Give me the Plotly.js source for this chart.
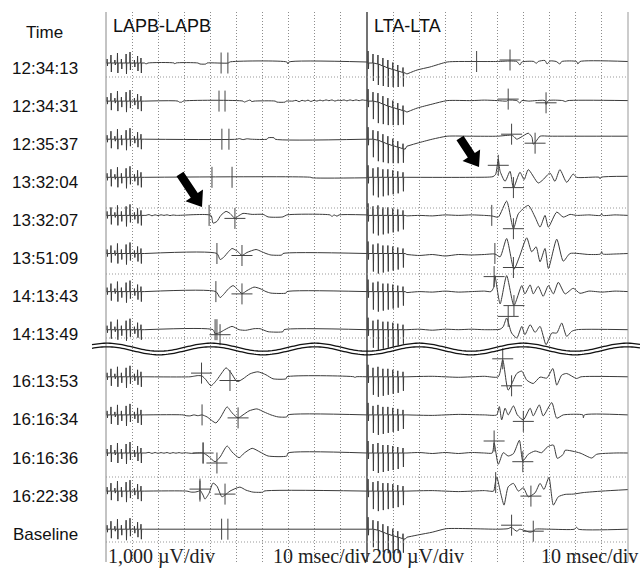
<!DOCTYPE html>
<html>
<head>
<meta charset="utf-8">
<script src="https://cdn.plot.ly/plotly-3.0.1.min.js"></script>
<style>html,body{margin:0;padding:0;background:#fff;}#chart{width:641px;height:568px;}</style>
</head>
<body>
<div id="chart"></div>
<script>
// ---------------- DATA ----------------
const timeLabels = ["12:34:13","12:34:31","12:35:37","13:32:04","13:32:07","13:51:09","14:13:43","14:13:49","16:13:53","16:16:34","16:16:36","16:22:38","Baseline"];
const panelTitles = ["LAPB-LAPB","LTA-LTA"];
const scaleLabels = ["1,000 \u00b5V/div","10 msec/div","200 \u00b5V/div","10 msec/div"];
const LAPB_UV_PER_DIV = 1000;
const LTA_UV_PER_DIV = 200;
const MS_PER_DIV = 10;

// stimulation artifacts [ms, uV]
const lapbArtifact = [[0,0],[0.3,0],[0.4,200],[0.55,-150],[0.65,0],
 [1.8,0],[1.9,400],[2.05,-450],[2.15,0],
 [3.3,0],[3.4,150],[3.55,-100],[3.65,0],
 [4.3,0],[4.4,500],[4.55,-500],[4.65,0],
 [5.8,0],[5.9,200],[6.05,-300],[6.15,0],
 [7.6,0],[7.7,450],[7.85,-550],[7.95,0],
 [9.1,0],[9.2,550],[9.35,-350],[9.45,0],
 [10.8,0],[10.9,150],[11.05,-200],[11.15,0],
 [12.0,0],[12.1,350],[12.25,-400],[12.35,0],
 [13.3,0],[13.4,250],[13.55,-500],[13.65,0],[14.6,0]];
const ltaArtifact = [[0,0],[0.3,0],[0.4,120],[0.55,-60],[0.65,0],
 [2.2,0],[2.3,90],[2.45,-180],[2.55,0],
 [4.1,0],[4.2,100],[4.35,-200],[4.45,0],
 [6.0,0],[6.1,80],[6.25,-190],[6.35,0],
 [7.9,0],[8.0,80],[8.15,-180],[8.25,0],
 [9.8,0],[9.9,70],[10.05,-170],[10.15,0],
 [11.7,0],[11.8,60],[11.95,-160],[12.05,0],
 [13.7,0],[13.8,50],[13.95,-140],[14.05,0],[14.6,0]];
const ltaArtifactDrift = [[0,0],[0.3,0],[0.4,120],[0.55,-60],[0.65,0],
 [2.2,0],[2.3,90],[2.45,-180],[2.55,0],
 [4.1,-10],[4.2,80],[4.35,-220],[4.45,-10],
 [6.0,-30],[6.1,50],[6.25,-230],[6.35,-30],
 [7.9,-50],[8.0,30],[8.15,-240],[8.25,-50],
 [9.8,-65],[9.9,5],[10.05,-240],[10.15,-65],
 [11.7,-80],[11.8,-20],[11.95,-240],[12.05,-80],
 [13.7,-95],[13.8,-45],[13.95,-235],[14.05,-95],[14.6,-100]];
const ltaDriftRows = [0,1,2,12];

// LAPB-LAPB responses [ms, uV]
const lapb0 = [[14.9,0],[15.3,-50],[16.1,0],[26.1,0],[26.4,-50],[26.8,0],[35.2,0],[36.0,-50],[38.3,-50],[38.7,0],[47.0,0],[47.3,50],[69.3,50],[69.7,-50],[70.1,50],[100,50]];
const lapb1 = [[14.9,0],[27.6,0],[28.0,-50],[29.1,-50],[29.5,0],[52.5,0],[52.9,-50],[54.0,0],[55.2,50],[55.9,-25],[56.7,0],[64.8,0],[65.5,-50],[68.6,-50],[69.0,0],[71.6,0],[72.8,40],[74.0,-30],[75.1,40],[76.3,0],[77.4,50],[78.5,-20],[79.7,40],[80.8,0],[82.0,50],[83.1,10],[84.3,60],[85.4,20],[86.6,60],[87.7,0],[88.9,50],[90.0,20],[91.2,60],[92.3,10],[93.5,60],[94.6,20],[95.8,60],[97.0,20],[98.1,60],[99.2,40],[100,40]];
const lapb2 = [[14.9,0],[50.2,0],[51.0,30],[52.5,-20],[54.0,20],[55.6,0],[61.7,0],[62.1,70],[64.4,70],[64.8,0],[100,0]];
const lapb3 = [[14.9,0],[78.5,0],[78.9,-25],[100,-25]];
const lapb4 = [[15.3,0],[16.5,40],[17.6,-20],[18.8,30],[19.9,-10],[21.1,30],[22.2,0],[23.4,30],[24.5,-10],[25.7,20],[27.0,0],[40.2,0],[41.0,-385],[42.5,-300],[44.0,0],[46.0,200],[47.5,100],[49.4,-150],[50.5,-50],[52.5,100],[56.0,50],[60.2,50],[62.1,-75],[67.8,-75],[69.3,25],[85.8,25],[86.6,-50],[87.4,25],[88.5,-40],[89.3,25],[100,25]];
const lapb5 = [[14.9,0],[42.5,0],[43.7,-300],[45.0,-200],[47.0,100],[48.3,250],[50.5,100],[52.1,-100],[54.0,50],[57.5,200],[59.5,100],[61.3,0],[63.2,-75],[67.4,-75],[67.8,0],[100,0]];
const lapb6 = [[14.9,0],[42.1,0],[43.7,-300],[45.0,-150],[47.0,150],[48.7,300],[50.5,100],[52.1,-100],[54.0,50],[56.7,225],[59.0,150],[61.3,0],[63.2,-75],[69.0,-75],[69.3,0],[100,0]];
const lapb7 = [[14.9,0],[41.0,0],[41.8,-200],[43.5,-150],[45.5,0],[48.3,165],[51.0,0],[53.5,-30],[56.7,50],[59.0,50],[62.1,-100],[67.8,-100],[68.2,0],[100,0]];
const lapb8 = [[14.9,0],[32.2,0],[33.7,30],[35.2,60],[36.8,40],[38.3,-150],[40.2,-450],[42.5,-150],[44.4,200],[46.0,450],[47.9,200],[49.8,-185],[50.6,-235],[52.5,-100],[55.2,150],[58.2,250],[61.3,100],[64.0,-100],[69.0,-100],[69.3,0],[95.0,0],[95.4,-40],[95.8,0],[100,0]];
const lapb9 = [[14.9,0],[29.5,0],[30.7,-40],[32.2,-50],[33.7,0],[35.2,-40],[36.8,0],[38.7,-100],[42.1,-400],[44.0,-100],[46.4,400],[48.3,100],[50.6,-150],[52.5,0],[54.8,200],[57.8,300],[60.5,150],[63.2,0],[65.9,-100],[69.3,-100],[69.7,0],[100,0]];
const lapb10 = [[15.3,0],[16.5,30],[17.6,-20],[18.8,25],[19.9,-15],[21.1,20],[22.2,-10],[23.4,25],[24.5,-20],[25.7,20],[26.8,-10],[28.0,20],[29.1,-10],[30.3,15],[31.4,0],[33.0,-20],[34.5,0],[37.2,0],[39.1,-150],[41.8,-435],[43.7,-200],[46.4,350],[48.3,50],[51.0,-235],[53.0,0],[56.0,235],[59.0,50],[62.1,-150],[69.3,-150],[69.7,0],[100,0]];
const lapb11 = [[14.9,0],[31.0,0],[32.6,-50],[34.1,-50],[35.6,0],[36.0,50],[37.2,-200],[37.9,-400],[39.5,-100],[41.0,400],[42.5,250],[44.4,-285],[45.6,-200],[47.5,0],[51.3,200],[53.6,50],[56.3,-50],[60.2,-50],[60.5,0],[100,0]];
const lapb12 = [[14.9,0],[100,0]];

// LTA-LTA responses [ms, uV]
const lta0 = [[15.3,-110],[19.2,-70],[24.1,-40],[30.7,10],[35,15],[42.0,15],[50,15],[54.8,20],[57.4,15],[58.6,-20],[59.3,10],[64.0,15],[64.8,-5],[65.6,15],[68.2,25],[69.0,-10],[70.1,20],[72.5,15],[73.9,-10],[74.6,15],[80.3,15],[80.8,-10],[81.6,15],[100,15]];
const lta1 = [[15.3,-110],[19.2,-70],[25.0,-30],[30.7,5],[40,5],[45,10],[50,5],[53.5,0],[54.1,10],[57.4,5],[58.6,-20],[59.3,5],[62,0],[68.2,5],[68.6,-33],[69.5,5],[75,5],[76,-5],[77,5],[100,5]];
const lta2 = [[15.3,-70],[19.2,-40],[25.0,0],[30.7,30],[40,30],[50,30],[55.4,40],[56.1,30],[57.4,0],[59.0,20],[61.8,60],[63.2,20],[63.7,-50],[64.8,-20],[66.3,30],[70,30],[100,30]];
const lta3 = [[15.3,0],[40.6,0],[48.3,7],[49.3,30],[50.3,180],[51.0,60],[52.9,-40],[54.8,60],[56.1,-107],[58.6,50],[60.2,-23],[61.8,77],[65.6,-57],[67.5,-23],[70.1,43],[72.0,-40],[73.9,77],[76.5,-50],[79.0,33],[80.3,0],[89.0,0],[89.3,-15],[89.6,0],[100,10]];
const lta4 = [[15.3,-5],[20,0],[25,-5],[30,5],[35,0],[40,5],[45,0],[47.8,-5],[50.3,-17],[53.5,143],[56.1,-133],[58.0,17],[61.8,100],[64.4,-17],[66.3,-117],[68.2,0],[69.5,-117],[72.7,33],[75.2,-17],[77.8,10],[80.3,0],[85,5],[89.5,0],[89.9,20],[90.3,0],[95,5],[100,0]];
const lta5 = [[15.3,-10],[20,-20],[25,-10],[30,-25],[35,-10],[40,-15],[45,-10],[49.0,-5],[51.0,-33],[53.5,150],[56.3,-157],[58.4,-33],[61.2,157],[63.1,17],[64.8,67],[66.3,-83],[68.2,50],[69.5,-150],[72.7,143],[75.2,-77],[77.8,0],[85,-10],[89.5,-5],[89.9,20],[90.3,-5],[95,-5],[100,0]];
const lta6 = [[15.3,-10],[20,0],[25,-5],[30,5],[35,-5],[40,0],[45,5],[47.5,0],[48.5,40],[49.0,160],[51.0,-123],[53.5,160],[56.3,-140],[59.3,60],[60.5,-23],[62.5,67],[63.7,-23],[65.6,53],[67.5,-47],[69.5,60],[71.4,-23],[73.3,93],[75.9,-23],[79.0,33],[81.6,-17],[85,5],[90,-5],[95,5],[100,0]];
const lta7 = [[15.3,0],[20,5],[25,-5],[30,5],[35,0],[40,5],[45,0],[51.0,5],[52.2,30],[53.5,117],[55.4,-33],[57.4,-83],[59.3,33],[60.5,-50],[62.5,50],[64.4,-27],[66.3,33],[68.6,-150],[70.8,-33],[72.7,-33],[74.6,67],[76.5,-67],[78.4,-17],[80.3,0],[100,0]];
const lta8 = [[15.3,0],[25,5],[35,-5],[45,5],[50.3,0],[52.0,170],[54.1,-133],[57.4,33],[59.3,57],[61.2,-33],[63.7,-67],[66.3,-3],[68.9,-13],[71.2,83],[72.7,-83],[74.6,17],[76.5,33],[80.3,-17],[82,0],[100,0]];
const lta9 = [[15.3,0],[25,-5],[35,5],[45,0],[49.7,0],[50.7,83],[51.6,-50],[52.9,67],[54.1,0],[56.1,90],[57.6,0],[59.9,-50],[62.5,67],[63.7,-10],[66.0,100],[67.5,-10],[70.8,123],[72.7,-33],[75.2,0],[82.7,0],[82.9,-30],[83.3,0],[100,0]];
const lta10 = [[15.3,0],[20,5],[25,-5],[30,5],[35,-5],[40,5],[45,0],[48.0,0],[48.7,103],[50.3,-113],[52.2,3],[54.1,-30],[56.1,-7],[58.4,127],[59.7,-80],[61.8,-13],[64.4,20],[66.9,3],[69.1,60],[71.4,80],[72.9,-53],[75.2,-13],[75.9,27],[81.6,0],[86.1,-50],[88.0,-13],[95,0],[100,0]];
const lta11 = [[15.3,0],[25,5],[35,-5],[45,5],[48.5,0],[49.0,60],[49.7,143],[51.3,-30],[52.5,-140],[54.1,43],[56.1,77],[58.0,0],[59.9,33],[61.8,-57],[64.4,-17],[66.3,77],[67.8,17],[69.7,137],[71.4,-140],[73.3,-57],[75.9,-33],[79.0,-30],[82.8,-15],[90,0],[100,15]];
const lta12 = [[15.3,-80],[20,-55],[25,-30],[30.3,5],[40,5],[50,0],[54,5],[55.4,20],[56,5],[57.4,-20],[58.5,0],[62.5,-30],[63.7,-20],[64.5,0],[70,0],[79.5,0],[80.3,20],[81,0],[100,0]];

// cursor marks: vertical ticks [row, ms, uV] and crosses [row, ms, uV]
const lapbTicks = [[0,44.1,0],[0,46.7,0],[1,43.3,0],[1,45.6,0],[2,44.4,0],[2,47.1,0],[3,40.6,0],[3,48.3,0],[4,39.5,0],[5,42.5,0],[6,42.1,0],[7,41.8,0],[7,42.5,0],[9,36.8,0],[10,37.2,0],[11,36.0,0],[12,44.3,0],[12,46.7,0]];
const lapbCross = [[4,49.4,-150],[5,52.1,-100],[6,52.1,-115],[7,43.7,-250],[8,36.6,185],[8,47.5,-185],[9,50.6,-150],[10,37.2,0],[10,42.5,-500],[11,36.0,100],[11,45.6,-150]];
const ltaTicks = [[4,47.8,0],[5,49.0,0],[11,49.3,85]];
const ltaCross = [[0,42.0,15],[0,54.8,30],[1,54.1,20],[1,68.6,-17],[2,55.4,50],[2,64.4,-40],[3,50.3,120],[3,56.1,-103],[4,56.1,-133],[5,56.1,-140],[6,48.7,150],[6,56.3,-140],[7,54.1,133],[8,52.0,180],[8,55.4,-90],[9,59.9,-65],[10,48.7,120],[10,59.7,-87],[11,62.8,-50],[12,55.4,40],[12,63.7,-20]];

const lapbRows = [lapb0,lapb1,lapb2,lapb3,lapb4,lapb5,lapb6,lapb7,lapb8,lapb9,lapb10,lapb11,lapb12];
const ltaRows = [lta0,lta1,lta2,lta3,lta4,lta5,lta6,lta7,lta8,lta9,lta10,lta11,lta12];

// ---------------- LAYOUT HELPERS ----------------
const W = 641, H = 568;
const M = {l:106, r:13, t:12, b:6};
const PW = W - M.l - M.r, PH = H - M.t - M.b;
const DIV_PX = 20;             // display height of one amplitude division
const ROW_GAP = 38.1, FIRST_ROW = 51, BREAK_EXTRA = 9, BREAK_AFTER = 7;
function rowBase(i){ return -(FIRST_ROW + i*ROW_GAP + (i>BREAK_AFTER?BREAK_EXTRA:0)); }
function pxX(px){ return (px - M.l)/PW; }
function pxY(py){ return 1 - (py - M.t)/PH; }
function axY(py){ return -(py - M.t); }

const LINE = '#3a3a3a';
const traces = [];
function seg(pts, i, uvdiv, xa, shape){
  return {x:pts.map(p=>p[0]), y:pts.map(p=>rowBase(i)+p[1]/uvdiv*DIV_PX), xaxis:xa, yaxis:'y',
    mode:'lines', line:{color:LINE, width:1, shape:shape, smoothing:0.6}, hoverinfo:'skip'};
}
for (let i=0;i<timeLabels.length;i++){
  const la = lapbArtifact.concat([lapbRows[i][0]]);
  traces.push(seg(la, i, LAPB_UV_PER_DIV, 'x', 'linear'));
  traces.push(seg(lapbRows[i], i, LAPB_UV_PER_DIV, 'x', 'spline'));
  const art = ltaDriftRows.includes(i) ? ltaArtifactDrift : ltaArtifact;
  traces.push(seg(art.concat([ltaRows[i][0]]), i, LTA_UV_PER_DIV, 'x2', 'linear'));
  traces.push(seg(ltaRows[i], i, LTA_UV_PER_DIV, 'x2', 'spline'));
}
function markTrace(arr, uvdiv, xa, sym, size){
  return {x:arr.map(p=>p[1]), y:arr.map(p=>rowBase(p[0])+p[2]/uvdiv*DIV_PX), xaxis:xa, yaxis:'y', mode:'markers',
    marker:{symbol:sym, size:size, color:'#444', line:{color:'#444', width:1}}, hoverinfo:'skip'};
}
traces.push(markTrace(lapbTicks, LAPB_UV_PER_DIV, 'x', 'line-ns', 15));
traces.push(markTrace(lapbCross, LAPB_UV_PER_DIV, 'x', 'cross-thin', 15));
traces.push(markTrace(ltaTicks, LTA_UV_PER_DIV, 'x2', 'line-ns', 15));
traces.push(markTrace(ltaCross, LTA_UV_PER_DIV, 'x2', 'cross-thin', 15));

// shapes
const shapes = [];
[[106,'#888',1],[367,'#444',1.5],[628,'#999',1]].forEach(([px,c,w])=>{
  shapes.push({type:'line', xref:'paper', yref:'paper', x0:pxX(px), x1:pxX(px), y0:0, y1:1, line:{color:c,width:w}});
});
[77,208,274,338,477,542].forEach(py=>{
  shapes.push({type:'line', xref:'paper', yref:'paper', x0:0, x1:1, y0:pxY(py), y1:pxY(py), line:{color:'#999',width:1,dash:'1px,2px'}});
});
function wavePath(off){
  let d='';
  for(let x=92;x<=641;x+=2){
    const y = 349 + off - 4*Math.cos(2*Math.PI*(x-107)/104);
    d += (d?' L ':'M ') + pxX(x).toFixed(5)+','+pxY(y).toFixed(5);
  }
  return d;
}
shapes.push({type:'path', xref:'paper', yref:'paper', path:wavePath(-1.8), line:{color:'#111',width:1.3}});
shapes.push({type:'path', xref:'paper', yref:'paper', path:wavePath(1.8), line:{color:'#111',width:1.3}});
function arrowPath(tx,ty,hx,hy){
  const dx=hx-tx, dy=hy-ty, len=Math.hypot(dx,dy), ux=dx/len, uy=dy/len, nx=-uy, ny=ux;
  const sw=4.2, hw=10.5, hl=14;
  const neckx=hx-ux*hl, necky=hy-uy*hl;
  const pts=[[tx+nx*sw,ty+ny*sw],[neckx+nx*sw,necky+ny*sw],[neckx+nx*hw,necky+ny*hw],[hx,hy],
             [neckx-nx*hw,necky-ny*hw],[neckx-nx*sw,necky-ny*sw],[tx-nx*sw,ty-ny*sw]];
  return pts.map((p,k)=>(k?'L ':'M ')+pxX(p[0]).toFixed(5)+','+pxY(p[1]).toFixed(5)).join(' ')+' Z';
}
shapes.push({type:'path', xref:'paper', yref:'paper', path:arrowPath(180,174,202,207), fillcolor:'#000', line:{width:0}});
shapes.push({type:'path', xref:'paper', yref:'paper', path:arrowPath(460,138,479,167), fillcolor:'#000', line:{width:0}});

// annotations
const SANS = 'Liberation Sans, Arial, sans-serif';
const SERIF = 'Liberation Serif, Times New Roman, serif';
const annotations = [];
annotations.push({text:'Time', xref:'paper', yref:'y', x:pxX(44), y:axY(32), xanchor:'center', yanchor:'middle', showarrow:false, font:{family:SANS,size:17,color:'#111'}});
timeLabels.forEach((t,i)=>{
  annotations.push({text:t, xref:'paper', yref:'y', x:pxX(45), y:rowBase(i)-5, xanchor:'center', yanchor:'middle', showarrow:false, font:{family:SANS,size:17,color:'#111'}});
});
annotations.push({text:panelTitles[0], xref:'paper', yref:'y', x:pxX(111), y:axY(26), xanchor:'left', yanchor:'middle', showarrow:false, font:{family:SANS,size:18,color:'#111'}});
annotations.push({text:panelTitles[1], xref:'paper', yref:'y', x:pxX(372), y:axY(26), xanchor:'left', yanchor:'middle', showarrow:false, font:{family:SANS,size:18,color:'#111'}});
[[scaleLabels[0],106,'left'],[scaleLabels[1],271,'left'],[scaleLabels[2],370,'left'],[scaleLabels[3],640,'right']].forEach(([t,px,anc])=>{
  annotations.push({text:t, xref:'paper', yref:'y', x:pxX(px), y:axY(556), xanchor:anc, yanchor:'middle', showarrow:false, font:{family:SERIF,size:20,color:'#222'}});
});

const xa = {range:[0,100], dtick:MS_PER_DIV, tick0:0, showgrid:true, gridcolor:'#8c8c8c', griddash:'1px,2px', gridwidth:1,
  showticklabels:false, ticks:'', zeroline:false, showline:false, fixedrange:true};
const layout = {
  width:W, height:H, margin:M, paper_bgcolor:'#fff', plot_bgcolor:'#fff', showlegend:false, hovermode:false,
  xaxis:Object.assign({domain:[0,0.5], anchor:'y'}, xa),
  xaxis2:Object.assign({domain:[0.5,1], anchor:'y'}, xa),
  yaxis:{range:[-PH,0], showgrid:false, zeroline:false, showticklabels:false, showline:false, ticks:'', fixedrange:true},
  shapes:shapes, annotations:annotations
};
Plotly.newPlot('chart', traces, layout, {staticPlot:true, displayModeBar:false});
</script>
</body>
</html>
